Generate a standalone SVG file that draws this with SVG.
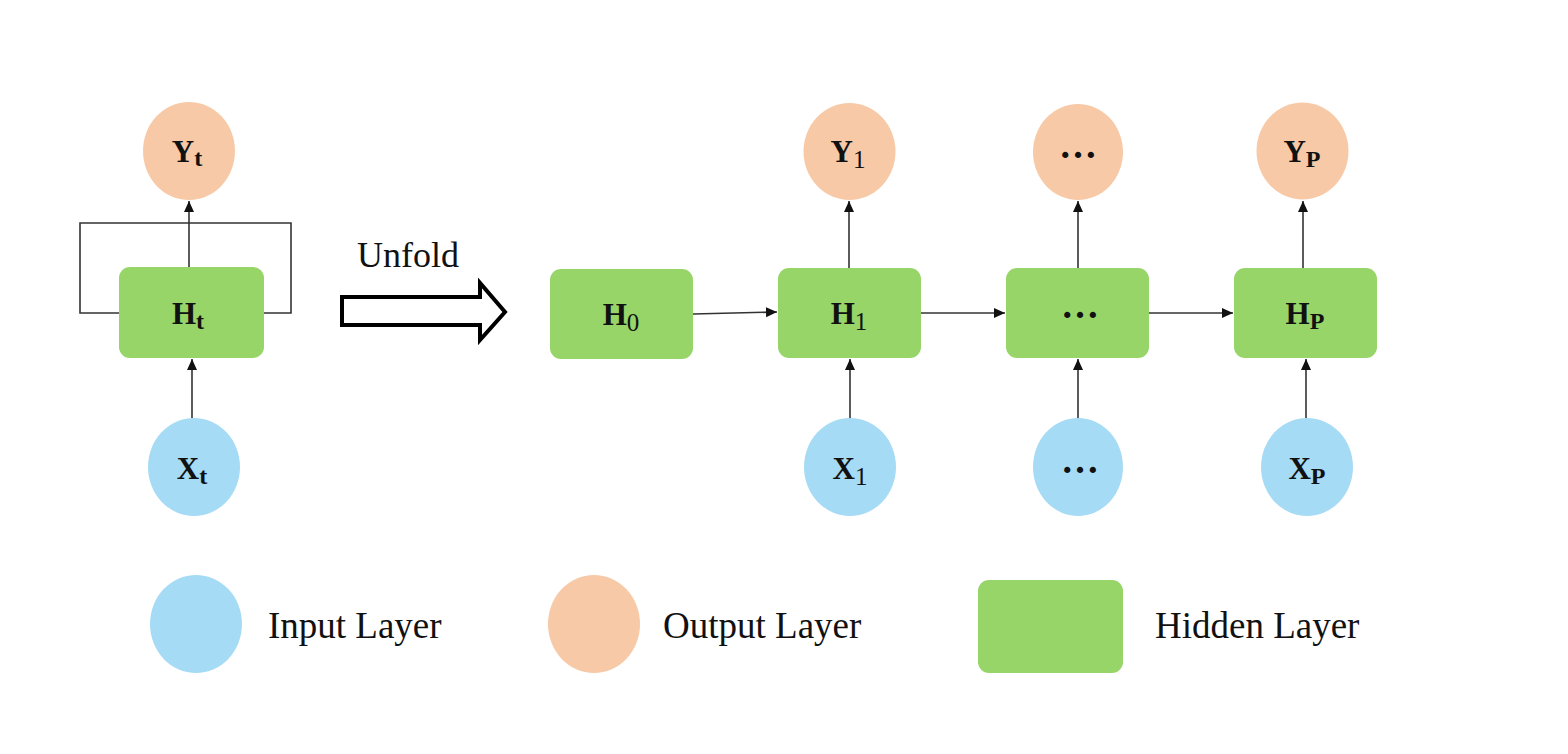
<svg xmlns="http://www.w3.org/2000/svg" width="1568" height="754" viewBox="0 0 1568 754">
<defs>
<style>
.out{fill:#F7C9A6}
.inp{fill:#A6DBF5}
.hid{fill:#97D569}
.lbl{font-family:"Liberation Serif","Times New Roman",serif;font-weight:bold;font-size:31px;fill:#111;text-anchor:middle}
.dots{font-family:"Liberation Serif","Times New Roman",serif;font-weight:bold;font-size:38px;fill:#111;text-anchor:middle}
.sub{font-size:24px}
.subn{font-size:25px;font-weight:normal}
.leg{font-family:"Liberation Serif","Times New Roman",serif;font-size:37px;fill:#111}
.con{stroke:#333;stroke-width:1.6;fill:none}
</style>
<marker id="ah" markerUnits="userSpaceOnUse" markerWidth="12" markerHeight="11" refX="11" refY="5.5" orient="auto">
<path d="M0,0.5 L11,5.5 L0,10.5 z" fill="#111"/>
</marker>
</defs>
<rect width="1568" height="754" fill="#fff"/>

<g id="connectors">
<path class="con" d="M119,313 H80 V223 H291 V313 H264"/>
<line class="con" x1="189" y1="267" x2="189" y2="201" marker-end="url(#ah)"/>
<line class="con" x1="192" y1="418" x2="192" y2="359" marker-end="url(#ah)"/>
<line class="con" x1="693" y1="314" x2="777" y2="312" marker-end="url(#ah)"/>
<line class="con" x1="849" y1="268" x2="849" y2="201" marker-end="url(#ah)"/>
<line class="con" x1="850" y1="418" x2="850" y2="359" marker-end="url(#ah)"/>
<line class="con" x1="921" y1="313" x2="1005" y2="313" marker-end="url(#ah)"/>
<line class="con" x1="1078" y1="268" x2="1078" y2="201" marker-end="url(#ah)"/>
<line class="con" x1="1078" y1="418" x2="1078" y2="359" marker-end="url(#ah)"/>
<line class="con" x1="1149" y1="313" x2="1233" y2="313" marker-end="url(#ah)"/>
<line class="con" x1="1303" y1="268" x2="1303" y2="201" marker-end="url(#ah)"/>
<line class="con" x1="1306" y1="418" x2="1306" y2="359" marker-end="url(#ah)"/>
</g>

<g id="unfold">
<text x="357" y="267" font-family="Liberation Serif, Times New Roman, serif" font-size="36" fill="#111">Unfold</text>
<path d="M342,297 H480 V283 L505,312 L480,340 V325 H342 Z" fill="#fff" stroke="#000" stroke-width="4" stroke-linejoin="miter"/>
</g>

<g id="Yt"><ellipse class="out" cx="189" cy="151" rx="46" ry="49"/><text class="lbl" x="187" y="162">Y<tspan class="sub" dy="4">t</tspan></text></g>
<g id="Ht"><rect class="hid" x="119" y="267" width="145" height="91" rx="11"/><text class="lbl" x="188" y="324">H<tspan class="sub" dy="5">t</tspan></text></g>
<g id="Xt"><ellipse class="inp" cx="194" cy="467" rx="46" ry="49"/><text class="lbl" x="192" y="479">X<tspan class="sub" dy="5">t</tspan></text></g>

<g id="H0"><rect class="hid" x="550" y="269" width="143" height="90" rx="11"/><text class="lbl" x="621" y="325">H<tspan class="subn" dy="6">0</tspan></text></g>
<g id="H1"><rect class="hid" x="778" y="268" width="143" height="90" rx="11"/><text class="lbl" x="849" y="324">H<tspan class="subn" dy="6">1</tspan></text></g>
<g id="Y1"><ellipse class="out" cx="849.5" cy="151.5" rx="46" ry="48.5"/><text class="lbl" x="848" y="162">Y<tspan class="subn" dy="6">1</tspan></text></g>
<g id="X1"><ellipse class="inp" cx="850" cy="467" rx="46" ry="49"/><text class="lbl" x="850" y="479">X<tspan class="subn" dy="6">1</tspan></text></g>

<g id="Hd"><rect class="hid" x="1006" y="268" width="143" height="90" rx="11"/><text class="dots" x="1080" y="318">…</text></g>
<g id="Yd"><ellipse class="out" cx="1078" cy="152" rx="45" ry="48"/><text class="dots" x="1078" y="158">…</text></g>
<g id="Xd"><ellipse class="inp" cx="1078" cy="467" rx="45" ry="49"/><text class="dots" x="1080" y="473">…</text></g>

<g id="HP"><rect class="hid" x="1234" y="268" width="143" height="90" rx="11"/><text class="lbl" x="1305" y="324">H<tspan class="sub" dy="5">P</tspan></text></g>
<g id="YP"><ellipse class="out" cx="1302.5" cy="151" rx="46" ry="48.5"/><text class="lbl" x="1302" y="162">Y<tspan class="sub" dy="5">P</tspan></text></g>
<g id="XP"><ellipse class="inp" cx="1307" cy="467" rx="46" ry="49"/><text class="lbl" x="1307" y="479">X<tspan class="sub" dy="5">P</tspan></text></g>

<g id="legend-input"><ellipse class="inp" cx="196" cy="624" rx="46" ry="49"/><text class="leg" x="268" y="638">Input Layer</text></g>
<g id="legend-output"><ellipse class="out" cx="594" cy="624" rx="46" ry="49"/><text class="leg" x="663" y="638">Output Layer</text></g>
<g id="legend-hidden"><rect class="hid" x="978" y="580" width="145" height="93" rx="11"/><text class="leg" x="1155" y="638">Hidden Layer</text></g>
</svg>
